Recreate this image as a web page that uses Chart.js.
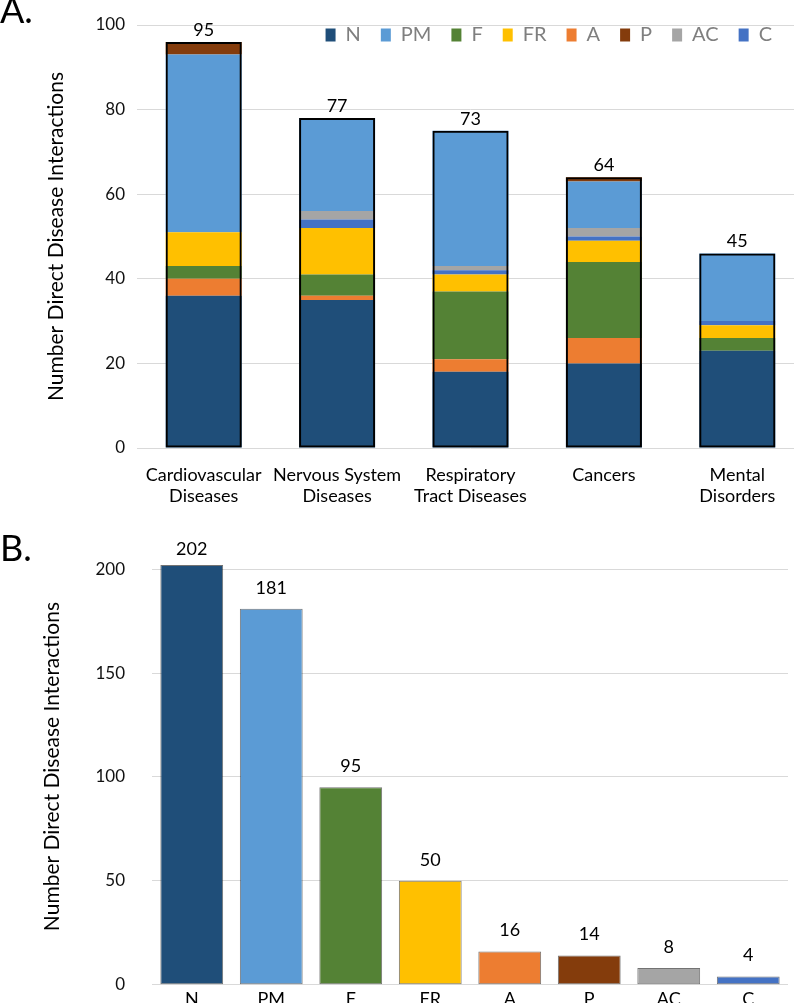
<!DOCTYPE html>
<html>
<head>
<meta charset="utf-8">
<script src="https://cdn.jsdelivr.net/npm/chart.js@4.4.1/dist/chart.umd.min.js"></script>
<style>
  html, body { margin: 0; padding: 0; background: #fff; width: 794px; height: 1003px; overflow: hidden; }
  body { position: relative; font-family: Lato, sans-serif; }
  .panel { position: absolute; left: 0; font-size: 36px; line-height: 1; color: #000; z-index: 2; }
  #wrapA { position: absolute; left: 0; top: 0; width: 810px; height: 540px; }
  #wrapB { position: absolute; left: 0; top: 530px; width: 794px; height: 500px; }
</style>
</head>
<body>
<div class="panel" style="top:-9px">A.</div>
<div class="panel" style="top:529px">B.</div>
<div id="wrapA"><canvas id="chartA" width="810" height="540"></canvas></div>
<div id="wrapB"><canvas id="chartB" width="794" height="500"></canvas></div>
<script>
// --- panel A: stacked by disease group ---
const diseaseGroups = [['Cardiovascular', 'Diseases'], ['Nervous System', 'Diseases'], ['Respiratory', 'Tract Diseases'], 'Cancers', ['Mental', 'Disorders']];
const groupTotals = [95, 77, 73, 64, 45];
const seriesN  = [36, 35, 18, 20, 23];
const seriesA  = [4, 1, 3, 6, 0];
const seriesF  = [3, 5, 16, 18, 3];
const seriesFR = [8, 11, 4, 5, 3];
const seriesC  = [0, 2, 1, 1, 1];
const seriesAC = [0, 2, 1, 2, 0];
const seriesPM = [42, 22, 32, 11, 16];
const seriesP  = [3, 0, 0, 1, 0];
const yTicksA = [0, 20, 40, 60, 80, 100];

// --- panel B: totals per class ---
const classNames = ['N', 'PM', 'F', 'FR', 'A', 'P', 'AC', 'C'];
const classTotals = [202, 181, 95, 50, 16, 14, 8, 4];
const yTicksB = [0, 50, 100, 150, 200];

const colors = {
  N: '#1f4e79', PM: '#5b9bd5', F: '#548235', FR: '#ffc000',
  A: '#ed7d31', P: '#843c0c', AC: '#a5a5a5', C: '#4472c4'
};

Chart.defaults.font.family = 'Lato, sans-serif';
Chart.defaults.color = '#000';

// bottom-to-top order of the segments
const stackA = [
  ['N', seriesN], ['A', seriesA], ['F', seriesF], ['FR', seriesFR],
  ['C', seriesC], ['AC', seriesAC], ['PM', seriesPM], ['P', seriesP]
];
const outline = diseaseGroups.map((_, i) => stackA.reduce((s, [, v]) => s + v[i], 0));

// numbers above the bars
const topLabels = {
  id: 'topLabels',
  afterDatasetsDraw(chart, args, opts) {
    const meta = chart.getDatasetMeta(opts.datasetIndex);
    const ctx = chart.ctx;
    ctx.save();
    ctx.font = '18px Lato, sans-serif';
    ctx.fillStyle = '#000';
    ctx.textAlign = 'center';
    ctx.textBaseline = 'middle';
    meta.data.forEach((bar, i) => {
      ctx.fillText(String(opts.labels[i]), bar.x, Math.max(bar.y - opts.gap, opts.minY));
    });
    ctx.restore();
  }
};

// legend sits over the plot, top right
const legendLift = {
  id: 'legendLift',
  afterUpdate(chart) {
    const lg = chart.legend;
    lg.top = 5;
    lg.bottom = lg.top + lg.height;
    lg.left -= 12;
    lg.right -= 12;
  }
};

const legendOrder = ['N', 'PM', 'F', 'FR', 'A', 'P', 'AC', 'C'];

function drawChartA() {
  const datasets = stackA.map(([name, values]) => ({
    label: name,
    data: values,
    backgroundColor: colors[name],
    borderWidth: 0,
    stack: 'main',
    barPercentage: 0.57,
    categoryPercentage: 1
  }));
  datasets.push({
    label: 'total',
    data: outline,
    backgroundColor: 'rgba(0,0,0,0)',
    borderColor: '#000',
    borderWidth: 2,
    borderSkipped: false,
    stack: 'outline',
    grouped: false,
    order: -1,
    barPercentage: 0.57,
    categoryPercentage: 1
  });

  new Chart(document.getElementById('chartA'), {
    type: 'bar',
    data: { labels: diseaseGroups, datasets },
    options: {
      responsive: false,
      animation: false,
      layout: { padding: { top: -25, right: 6, left: 0, bottom: 0 } },
      scales: {
        x: {
          stacked: true,
          grid: { display: false },
          border: { display: false },
          ticks: { font: { size: 18 }, color: '#000', padding: 8, maxRotation: 0 },
          afterFit(scale) { scale.height = 92; }
        },
        y: {
          stacked: true,
          min: 0,
          max: 100,
          grid: { color: '#d9d9d9', drawTicks: false },
          border: { display: false },
          ticks: { stepSize: 20, font: { size: 17 }, color: '#111', padding: 12 },
          afterBuildTicks(scale) { scale.ticks = yTicksA.map(v => ({ value: v })); },
          title: { display: true, text: 'Number Direct Disease Interactions', font: { size: 21 }, color: '#000', padding: { top: 44, bottom: 0 } },
          afterFit(scale) { scale.width = 137; scale.paddingTop = 0; scale.paddingBottom = 0; }
        }
      },
      plugins: {
        legend: {
          position: 'top',
          align: 'end',
          labels: {
            boxWidth: 10,
            boxHeight: 13,
            padding: 20,
            color: '#7f7f7f',
            font: { size: 20 },
            filter: item => item.text !== 'total',
            sort: (a, b) => legendOrder.indexOf(a.text) - legendOrder.indexOf(b.text)
          }
        },
        tooltip: { enabled: false },
        topLabels: { datasetIndex: datasets.length - 1, labels: groupTotals, gap: 12, minY: 0 }
      }
    },
    plugins: [topLabels, legendLift]
  });
}

function drawChartB() {
  new Chart(document.getElementById('chartB'), {
    type: 'bar',
    data: {
      labels: classNames,
      datasets: [{
        label: 'Interactions',
        data: classTotals,
        backgroundColor: classNames.map(n => colors[n]),
        borderColor: 'rgba(0,0,0,0.55)',
        borderWidth: 1,
        borderSkipped: false,
        barPercentage: 0.79,
        categoryPercentage: 1
      }]
    },
    options: {
      responsive: false,
      animation: false,
      layout: { padding: { top: 18.5, right: 6, left: 0, bottom: 0 } },
      scales: {
        x: {
          grid: { display: false },
          border: { display: false },
          ticks: { font: { size: 18 }, color: '#000', padding: -4 },
          afterFit(scale) { scale.height = 45.3; }
        },
        y: {
          min: 0,
          max: 210,
          grid: { color: '#d9d9d9', drawTicks: false },
          border: { display: false },
          ticks: { font: { size: 17 }, color: '#111', padding: 27 },
          afterBuildTicks(scale) { scale.ticks = yTicksB.map(v => ({ value: v })); },
          title: { display: true, text: 'Number Direct Disease Interactions', font: { size: 21 }, color: '#000', padding: { top: 40, bottom: 0 } },
          afterFit(scale) { scale.width = 152; scale.paddingTop = 0; scale.paddingBottom = 0; }
        }
      },
      plugins: {
        legend: { display: false },
        tooltip: { enabled: false },
        topLabels: { datasetIndex: 0, labels: classTotals, gap: 21, minY: 19 }
      }
    },
    plugins: [topLabels]
  });
}

drawChartA();
drawChartB();
</script>
</body>
</html>
